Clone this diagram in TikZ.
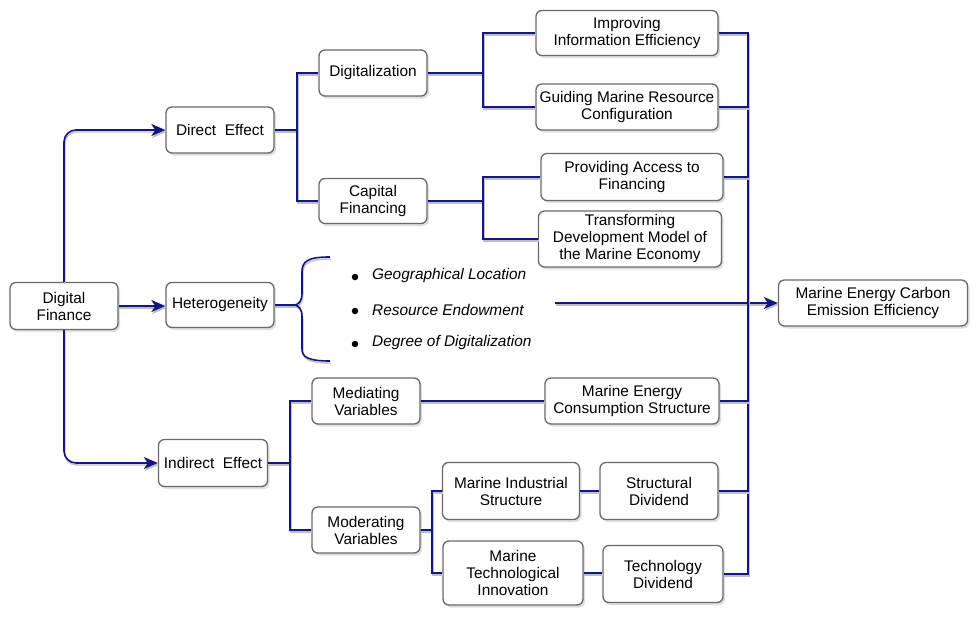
\documentclass[tikz,border=0pt]{standalone}
\usepackage{fontspec}
\setmainfont{Liberation Sans}
\usetikzlibrary{shadows,arrows.meta}
\definecolor{lnc}{RGB}{22,22,128}
\definecolor{bxc}{RGB}{105,105,105}
\begin{document}
\begin{tikzpicture}[x=1pt,y=-1pt,
 box/.style={draw=bxc, line width=1.3pt, rounded corners=6pt, fill=white, align=center, inner sep=2pt,
   font=\fontsize{15.4}{17}\selectfont,
   drop shadow={shadow xshift=2pt,shadow yshift=-2.5pt,fill=black!25}},
 ln/.style={draw=lnc, line width=1.6pt,
   preaction={draw=black!25, line width=1.4pt, transform canvas={xshift=0.8pt,yshift=-2pt}}},
 arr/.style={ln, -{Stealth[length=14pt,width=12pt,inset=4pt]}},
 itm/.style={anchor=west, inner sep=0pt, font=\fontsize{15.4}{17}\selectfont\itshape},
 bul/.style={circle, fill=black, inner sep=0pt, minimum size=6.5pt}]
\useasboundingbox (0,0) rectangle (980,621);
% nodes
\node[box, minimum width=108pt, minimum height=47pt] (df) at (64,306) {Digital\\Finance};
\node[box, minimum width=108pt, minimum height=46pt] (de) at (220,130) {Direct~ Effect};
\node[box, minimum width=108pt, minimum height=45pt] (het) at (220,305) {Heterogeneity};
\node[box, minimum width=109pt, minimum height=47pt] (ie) at (213,463) {Indirect~ Effect};
\node[box, minimum width=108pt, minimum height=46pt] (dig) at (373,73) {Digitalization};
\node[box, minimum width=108pt, minimum height=45pt] (cap) at (373,201) {Capital\\Financing};
\node[box, minimum width=182pt, minimum height=45pt] (imp) at (627,33) {Improving\\Information Efficiency};
\node[box, minimum width=182pt, minimum height=46pt] (gui) at (627,107) {Guiding Marine Resource\\Configuration};
\node[box, minimum width=182pt, minimum height=47pt] (pro) at (632,177) {Providing Access to\\Financing};
\node[box, minimum width=183pt, minimum height=56pt] (tra) at (630,239) {Transforming\\Development Model of\\the Marine Economy};
\node[box, minimum width=189pt, minimum height=46pt] (mece) at (873,303) {Marine Energy Carbon\\Emission Efficiency};
\node[box, minimum width=108pt, minimum height=46pt] (med) at (366,401) {Mediating\\Variables};
\node[box, minimum width=108pt, minimum height=46pt] (mod) at (366,530) {Moderating\\Variables};
\node[box, minimum width=174pt, minimum height=46pt] (mecs) at (632,401) {Marine Energy\\Consumption Structure};
\node[box, minimum width=137pt, minimum height=57pt] (mis) at (511,491) {Marine Industrial\\Structure};
\node[box, minimum width=118pt, minimum height=57pt] (sd) at (659,491) {Structural\\Dividend};
\node[box, minimum width=140pt, minimum height=64pt] (mti) at (513,573) {Marine\\Technological\\Innovation};
\node[box, minimum width=120pt, minimum height=57pt] (td) at (663,574) {Technology\\Dividend};
% heterogeneity items
\node[bul] (b1) at (355,277) {};
\node[bul] (b2) at (355,311) {};
\node[bul] (b3) at (355,344) {};
\node[itm] (g1) at (372,276) {Geographical Location};
\node[itm] (g2) at (372,310) {Resource Endowment};
\node[itm] (g3) at (372,343) {Degree of Digitalization};
% connectors from Digital Finance
\draw[arr, rounded corners=12pt] (df.north) |- (de.west);
\draw[arr] (df.east) -- (df.east -| het.west);
\draw[arr, rounded corners=12pt] (df.south) |- (ie.west);
% Direct effect tree
\coordinate (j1) at (297,130);
\draw[ln] (de.east) -- (j1) |- (dig.west);
\draw[ln] (j1) |- (cap.west);
\coordinate (j2) at (483,73);
\draw[ln] (dig.east) -- (j2) |- (imp.west);
\draw[ln] (j2) |- (gui.west);
\coordinate (j3) at (483,201);
\draw[ln] (cap.east) -- (j3) |- (pro.west);
\draw[ln] (j3) |- (tra.west);
% Heterogeneity brace
\coordinate (bt) at (295,305);
\coordinate (btop) at (330,257);
\coordinate (bbot) at (330,361);
\draw[ln] (het.east) -- (bt);
\draw[ln] (btop) .. controls (308,257) and (302,261) .. (302,272) -- (302,293)
  .. controls (302,301) and (299,304) .. (bt)
  .. controls (299,306) and (302,309) .. (302,317) -- (302,349)
  .. controls (302,357) and (308,361) .. (bbot);
\coordinate (hs) at (555,303);
\draw[arr] (hs) -- (mece.west);
% Indirect effect tree
\coordinate (j4) at (290,463);
\draw[ln] (ie.east) -- (j4) |- (med.west);
\draw[ln] (j4) |- (mod.west);
\draw[ln] (med.east) -- (med.east -| mecs.west);
\coordinate (j5) at (432,530);
\draw[ln] (mod.east) -- (j5) |- (mis.west);
\draw[ln] (j5) |- (mti.west);
\draw[ln] (mis.east) -- (mis.east -| sd.west);
\draw[ln] (mti.east) -- (mti.east -| td.west);
% right bus
\coordinate (rt) at (748,33);
\coordinate (rb) at (748,574);
\draw[ln] (imp.east) -- (rt) -- (rb) -- (td.east);
\draw[ln] (gui.east) -- (gui.east -| rt);
\draw[ln] (pro.east) -- (pro.east -| rt);
\draw[ln] (mecs.east) -- (mecs.east -| rt);
\draw[ln] (sd.east) -- (sd.east -| rt);
\end{tikzpicture}
\end{document}
